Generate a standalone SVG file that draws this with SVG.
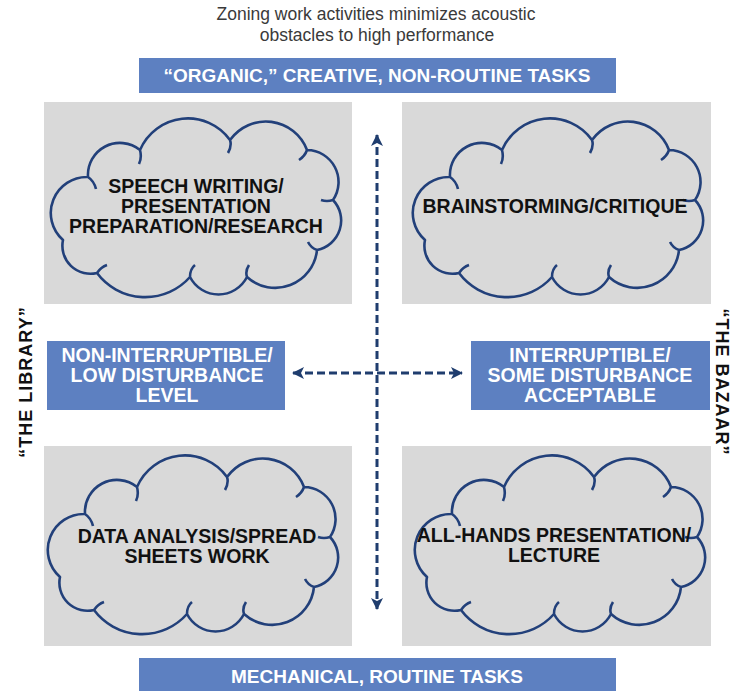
<svg xmlns="http://www.w3.org/2000/svg" width="734" height="691" viewBox="0 0 734 691">
<style>
.title{font-family:"Liberation Sans",Arial,sans-serif;font-size:17.5px;fill:#3a3a3a;text-anchor:middle}
.band{fill:#5d80c1}
.bandtxt{font-family:"Liberation Sans",Arial,sans-serif;font-weight:bold;font-size:19px;fill:#ffffff;text-anchor:middle}
.midtxt{font-family:"Liberation Sans",Arial,sans-serif;font-weight:bold;font-size:19.5px;fill:#ffffff;text-anchor:middle}
.panel{fill:#d9d9d9}
.cloud{fill:none;stroke:#22407a;stroke-width:2.6;stroke-linejoin:round}
.ctxt{font-family:"Liberation Sans",Arial,sans-serif;font-weight:bold;font-size:19.5px;fill:#111111;text-anchor:middle}
.side{font-family:"Liberation Sans",Arial,sans-serif;font-weight:bold;font-size:18px;fill:#111111;text-anchor:middle;letter-spacing:1px}
.conn{fill:none;stroke:#1f3d6e;stroke-width:3;stroke-dasharray:8 4}
</style>
<defs>
<path id="cloudshape" d="M15,125 A36,36 0 0 1 40,62 A32,32 0 0 1 92,35 A52,52 0 0 1 182,25 A44,44 0 0 1 259,35 A32,32 0 0 1 285,85 A30,30 0 0 1 269,135 A42,42 0 0 1 199,162 A32,32 0 0 1 142,162 A60,60 0 0 1 49,158 A28,28 0 0 1 15,125 Z M40,62 q6,4 8,12 M92,35 q2,8 -1,14 M182,25 q2,6 -2,13 M259,35 q-2,6 -8,10 M285,85 q-6,2 -12,0 M269,135 q-6,-2 -9,-8 M199,162 q-2,-6 2,-12 M142,162 q0,-8 5,-12 M49,158 q4,-6 10,-8"/>
<marker id="ah" viewBox="0 0 12 12" refX="11" refY="6" markerWidth="12" markerHeight="12" markerUnits="userSpaceOnUse" orient="auto-start-reverse">
<path d="M0,0 L12,6 L0,12 L3,6 Z" fill="#1f3d6e"/>
</marker>
</defs>
<rect width="734" height="691" fill="#ffffff"/>

<g id="title">
<text class="title" x="376" y="20">Zoning work activities minimizes acoustic</text>
<text class="title" x="377" y="41">obstacles to high performance</text>
</g>

<g id="top-band">
<rect class="band" x="139" y="58" width="477" height="35"/>
<text class="bandtxt" x="377" y="82">“ORGANIC,” CREATIVE, NON-ROUTINE TASKS</text>
</g>

<g id="bottom-band">
<rect class="band" x="139" y="658" width="477" height="33"/>
<text class="bandtxt" x="377" y="683">MECHANICAL, ROUTINE TASKS</text>
</g>

<g id="speech-writing">
<rect class="panel" x="44" y="102" width="308" height="202"/>
<use href="#cloudshape" class="cloud" transform="translate(48,115)"/>
<text class="ctxt" x="196" y="193">SPEECH WRITING/</text>
<text class="ctxt" x="196" y="213">PRESENTATION</text>
<text class="ctxt" x="196" y="233">PREPARATION/RESEARCH</text>
</g>

<g id="brainstorming">
<rect class="panel" x="402" y="102" width="309" height="202"/>
<use href="#cloudshape" class="cloud" transform="translate(410,115)"/>
<text class="ctxt" x="555" y="213">BRAINSTORMING/CRITIQUE</text>
</g>

<g id="data-analysis">
<rect class="panel" x="44" y="446" width="308" height="200"/>
<use href="#cloudshape" class="cloud" transform="translate(45,452)"/>
<text class="ctxt" x="197" y="543">DATA ANALYSIS/SPREAD</text>
<text class="ctxt" x="197" y="563">SHEETS WORK</text>
</g>

<g id="all-hands">
<rect class="panel" x="402" y="446" width="309" height="200"/>
<use href="#cloudshape" class="cloud" transform="translate(412,452)"/>
<text class="ctxt" x="554" y="542">ALL-HANDS PRESENTATION/</text>
<text class="ctxt" x="554" y="562">LECTURE</text>
</g>

<g id="non-interruptible">
<rect class="band" x="47" y="341" width="238" height="69"/>
<text class="midtxt" x="167" y="362">NON-INTERRUPTIBLE/</text>
<text class="midtxt" x="167" y="382">LOW DISTURBANCE</text>
<text class="midtxt" x="167" y="402">LEVEL</text>
</g>

<g id="interruptible">
<rect class="band" x="471" y="341" width="239" height="69"/>
<text class="midtxt" x="590" y="362">INTERRUPTIBLE/</text>
<text class="midtxt" x="590" y="382">SOME DISTURBANCE</text>
<text class="midtxt" x="590" y="402">ACCEPTABLE</text>
</g>

<g id="the-library">
<text class="side" transform="translate(32,382) rotate(-90)">“THE LIBRARY”</text>
</g>
<g id="the-bazaar">
<text class="side" transform="translate(716,382) rotate(90)">“THE BAZAAR”</text>
</g>

<g id="connectors">
<line class="conn" x1="377" y1="135" x2="377" y2="609" marker-start="url(#ah)" marker-end="url(#ah)"/>
<line class="conn" x1="293" y1="373" x2="462" y2="373" marker-start="url(#ah)" marker-end="url(#ah)"/>
</g>
</svg>
